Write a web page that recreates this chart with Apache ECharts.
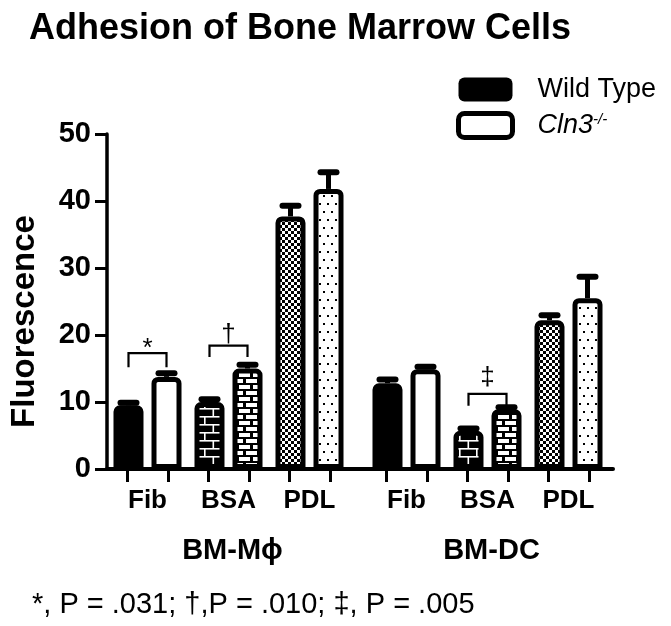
<!DOCTYPE html>
<html>
<head>
<meta charset="utf-8">
<script src="https://cdn.jsdelivr.net/npm/echarts@6/dist/echarts.min.js"></script>
<style>
html,body{margin:0;padding:0;background:#fff;}
#chart{width:671px;height:626px;}
</style>
</head>
<body>
<div id="chart"></div>
<script>
// ---------- data ----------
const categories = ['Fib', 'BSA', 'PDL'];
const groupNames = ['BM-Mϕ', 'BM-DC'];
const seriesNames = ['Wild Type', 'Cln3-/-'];
const yTicks = [0, 10, 20, 30, 40, 50];

const wtMac = [9.5, 10.0, 37.7];
const wtMacErr = [0.4, 0.4, 1.6];
const koMac = [13.75, 15.0, 41.8];
const koMacErr = [0.55, 0.55, 2.5];

const wtDc = [12.8, 5.7, 22.2];
const wtDcErr = [0.55, 0.35, 0.75];
const koDc = [14.9, 8.9, 25.5];
const koDcErr = [0.35, 0.3, 3.2];

// significance brackets
const sigGroup = [0, 0, 1];
const sigCat = [0, 1, 1];
const sigTop = [17.3, 18.4, 11.2];
const sigBottom = [15.2, 16.7, 9.45];
const sigMark = ['*', '†', '‡'];
const sigMarkLevel = [18.0, 20.1, 13.6];

const footnote = '*, P = .031; †,P = .010; ‡, P = .005';

// ---------- styles ----------
const FONT = "'Liberation Sans', Arial, Helvetica, sans-serif";
const BAR_OFFSET = 19;

function makePattern(w, h, draw) {
  const c = document.createElement('canvas');
  c.width = w; c.height = h;
  const ctx = c.getContext('2d');
  draw(ctx, w, h);
  return { image: c, repeat: 'repeat' };
}
const patBigBrick = makePattern(34, 16, (ctx, w, h) => {
  ctx.fillStyle = '#000'; ctx.fillRect(0, 0, w, h);
  ctx.fillStyle = '#fff';
  ctx.fillRect(0, 0, w, 1.6);
  ctx.fillRect(0, 8, w, 1.6);
  ctx.fillRect(0, 0, 1.6, 8);
  ctx.fillRect(17, 0, 1.6, 8);
  ctx.fillRect(8.5, 8, 1.6, 8);
  ctx.fillRect(25.5, 8, 1.6, 8);
});
const patSmallBrick = makePattern(14, 12, (ctx, w, h) => {
  ctx.fillStyle = '#000'; ctx.fillRect(0, 0, w, h);
  ctx.fillStyle = '#fff';
  ctx.fillRect(1, 1, 11, 4);
  ctx.fillRect(8, 7, 6, 4);
  ctx.fillRect(0, 7, 5, 4);
});
const patChecker = makePattern(6, 6, (ctx, w, h) => {
  ctx.fillStyle = '#fff'; ctx.fillRect(0, 0, w, h);
  ctx.fillStyle = '#000';
  ctx.fillRect(0, 0, 3, 3);
  ctx.fillRect(3, 3, 3, 3);
});
const patDots = makePattern(16, 16, (ctx, w, h) => {
  ctx.fillStyle = '#fff'; ctx.fillRect(0, 0, w, h);
  ctx.fillStyle = '#000';
  ctx.fillRect(3, 3, 2, 2);
  ctx.fillRect(11, 3, 2, 2);
  ctx.fillRect(7, 11, 2, 2);
  ctx.fillRect(15, 11, 1, 2);
  ctx.fillRect(0, 11, 1, 2);
});
const wtFills = ['#000', patBigBrick, patChecker];
const koFills = ['#fff', patSmallBrick, patDots];

const gridTop = 134, gridHeight = 335;
const grids = [
  { left: 107, top: gridTop, width: 243, height: gridHeight },
  { left: 366, top: gridTop, width: 243, height: gridHeight },
  { left: 107, top: gridTop, width: 506, height: gridHeight }
];

function barSeries(name, values, fills, xIdx, yIdx) {
  return {
    type: 'bar', name: name, xAxisIndex: xIdx, yAxisIndex: yIdx,
    barWidth: 30, barGap: '26.7%',
    itemStyle: { color: fills === wtFills ? '#000' : '#fff', borderColor: '#000', borderWidth: 5, borderRadius: [4, 4, 0, 0] },
    data: values.map((v, i) => ({ value: v, itemStyle: { color: fills[i] } })),
    z: 2
  };
}
function errSeries(values, errs, offset, xIdx, yIdx) {
  return {
    type: 'custom', xAxisIndex: xIdx, yAxisIndex: yIdx, z: 3, silent: true,
    data: values.map((v, i) => [i, v, errs[i]]),
    renderItem: function (params, api) {
      const i = api.value(0), v = api.value(1), e = api.value(2);
      const p0 = api.coord([i, v]);
      const p1 = api.coord([i, v + e]);
      const x = p0[0] + offset;
      return {
        type: 'group', children: [
          { type: 'line', shape: { x1: x, y1: p0[1], x2: x, y2: p1[1] }, style: { stroke: '#000', lineWidth: 5 } },
          { type: 'line', shape: { x1: x - 8, y1: p1[1], x2: x + 8, y2: p1[1] }, style: { stroke: '#000', lineWidth: 6, lineCap: 'round' } }
        ]
      };
    }
  };
}
function sigSeries(group, xIdx, yIdx) {
  const data = [];
  sigGroup.forEach((g, k) => { if (g === group) data.push([sigCat[k], sigTop[k], sigBottom[k], sigMarkLevel[k], k]); });
  return {
    type: 'custom', xAxisIndex: xIdx, yAxisIndex: yIdx, z: 4, silent: true,
    data: data,
    renderItem: function (params, api) {
      const i = api.value(0);
      const pt = api.coord([i, api.value(1)]);
      const pb = api.coord([i, api.value(2)]);
      const pm = api.coord([i, api.value(3)]);
      const k = api.value(4);
      const xl = pt[0] - BAR_OFFSET, xr = pt[0] + BAR_OFFSET;
      return {
        type: 'group', children: [
          { type: 'polyline', shape: { points: [[xl, pb[1]], [xl, pt[1]], [xr, pt[1]], [xr, pb[1]]] },
            style: { stroke: '#000', lineWidth: 2.2, fill: null } },
          { type: 'text', x: pt[0], y: pm[1],
            style: { text: sigMark[k], textAlign: 'center', textVerticalAlign: 'middle', font: '26px ' + FONT, fill: '#000' } }
        ]
      };
    }
  };
}

const catLabelAxis = (gridIndex, name) => ({
  type: 'category', gridIndex: gridIndex, position: 'bottom', data: categories,
  axisLine: { show: false }, axisTick: { show: false },
  axisLabel: { margin: 19, fontSize: 26, fontWeight: 'bold', color: '#000', fontFamily: FONT },
  name: name, nameLocation: 'middle', nameGap: 67,
  nameTextStyle: { fontSize: 29, fontWeight: 'bold', color: '#000', fontFamily: FONT, padding: [0, 0, 0, 8] }
});
const tickAxis = (gridIndex) => ({
  type: 'category', gridIndex: gridIndex, position: 'bottom',
  data: ['', '', '', '', '', ''],
  axisLine: { show: false },
  axisTick: { show: true, alignWithLabel: true, interval: 0, length: 13, lineStyle: { color: '#000', width: 3 } },
  axisLabel: { show: false }
});

const option = {
  backgroundColor: '#fff',
  animation: false,
  title: [
    { text: 'Adhesion of Bone Marrow Cells', left: 29, top: 11, padding: 0,
      textStyle: { fontSize: 36, fontWeight: 'bold', color: '#000', fontFamily: FONT } },
    { text: footnote, left: 32, top: 590, padding: 0,
      textStyle: { fontSize: 29, fontWeight: 'normal', color: '#000', fontFamily: FONT } }
  ],
  legend: {
    orient: 'vertical', left: 456, top: 76, padding: 0, itemWidth: 54, itemHeight: 24, itemGap: 8,
    icon: 'roundRect', selectedMode: false,
    data: [
      { name: seriesNames[0], itemStyle: { color: '#000', borderColor: '#000', borderWidth: 0 } },
      { name: seriesNames[1], itemStyle: { color: '#fff', borderColor: '#000', borderWidth: 5 } }
    ],
    formatter: function (name) {
      return name === seriesNames[1] ? '{i|Cln3}{s|-/-}' : '{w|' + name + '}';
    },
    textStyle: {
      color: '#000', fontFamily: FONT, fontSize: 27,
      rich: {
        w: { fontSize: 27, fontFamily: FONT, color: '#000', padding: [0, 0, 0, 20] },
        i: { fontSize: 27, fontStyle: 'italic', fontFamily: FONT, color: '#000', padding: [0, 0, 0, 20] },
        s: { fontSize: 15, fontStyle: 'italic', fontFamily: FONT, color: '#000', verticalAlign: 'top' }
      }
    }
  },
  grid: grids,
  xAxis: [
    catLabelAxis(0, groupNames[0]),
    tickAxis(0),
    catLabelAxis(1, groupNames[1]),
    tickAxis(1),
    { type: 'category', gridIndex: 2, position: 'bottom', data: [''],
      axisLine: { show: true, lineStyle: { color: '#000', width: 4 } },
      axisTick: { show: false }, axisLabel: { show: false } }
  ],
  yAxis: [
    { type: 'value', gridIndex: 0, min: yTicks[0], max: yTicks[yTicks.length - 1], interval: 10,
      axisLine: { show: true, lineStyle: { color: '#000', width: 3.5 } },
      axisTick: { show: true, length: 12, lineStyle: { color: '#000', width: 3 } },
      splitLine: { show: false },
      axisLabel: { margin: 16, fontSize: 29, fontWeight: 'bold', color: '#000', fontFamily: FONT },
      name: 'Fluorescence', nameLocation: 'middle', nameGap: 66, nameRotate: 90,
      nameTextStyle: { fontSize: 33, fontWeight: 'bold', color: '#000', fontFamily: FONT, padding: [0, 40, 0, 0] } },
    { type: 'value', gridIndex: 1, min: 0, max: 50, interval: 10, show: false },
    { type: 'value', gridIndex: 2, min: 0, max: 50, show: false }
  ],
  series: [
    barSeries(seriesNames[0], wtMac, wtFills, 0, 0),
    barSeries(seriesNames[1], koMac, koFills, 0, 0),
    barSeries(seriesNames[0], wtDc, wtFills, 2, 1),
    barSeries(seriesNames[1], koDc, koFills, 2, 1),
    errSeries(wtMac, wtMacErr, -BAR_OFFSET, 0, 0),
    errSeries(koMac, koMacErr, BAR_OFFSET, 0, 0),
    errSeries(wtDc, wtDcErr, -BAR_OFFSET, 2, 1),
    errSeries(koDc, koDcErr, BAR_OFFSET, 2, 1),
    sigSeries(0, 0, 0),
    sigSeries(1, 2, 1)
  ]
};

const chart = echarts.init(document.getElementById('chart'), null, { renderer: 'canvas' });
chart.setOption(option);
</script>
</body>
</html>
